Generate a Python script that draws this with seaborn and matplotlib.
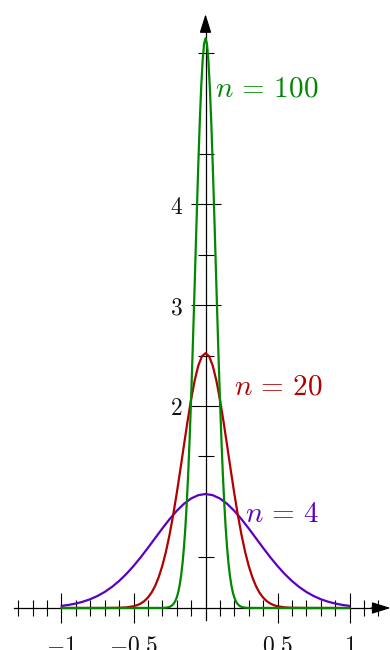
import pandas as pd
import seaborn as sns
import matplotlib.pyplot as plt

# curve values
x_n4 = [-1.0, -0.95, -0.9, -0.85, -0.8, -0.75, -0.7, -0.65, -0.6, -0.55, -0.5,
        -0.45, -0.4, -0.35, -0.3, -0.25, -0.2, -0.15, -0.1, -0.05, 0.0,
        0.05, 0.1, 0.15, 0.2, 0.25, 0.3, 0.35, 0.4, 0.45, 0.5,
        0.55, 0.6, 0.65, 0.7, 0.75, 0.8, 0.85, 0.9, 0.95, 1.0]
y_n4 = [0.0207, 0.0305, 0.0442, 0.0627, 0.0872, 0.1189, 0.1589, 0.2082, 0.2674, 0.3365, 0.4151,
        0.5020, 0.5950, 0.6913, 0.7873, 0.8788, 0.9616, 1.0313, 1.0842, 1.1172, 1.1284,
        1.1172, 1.0842, 1.0313, 0.9616, 0.8788, 0.7873, 0.6913, 0.5950, 0.5020, 0.4151,
        0.3365, 0.2674, 0.2082, 0.1589, 0.1189, 0.0872, 0.0627, 0.0442, 0.0305, 0.0207]

x_n20 = [-1.0, -0.7, -0.6, -0.55, -0.5, -0.475, -0.45, -0.425, -0.4, -0.375, -0.35,
         -0.325, -0.3, -0.275, -0.25, -0.225, -0.2, -0.175, -0.15, -0.125, -0.1,
         -0.075, -0.05, -0.025, 0.0, 0.025, 0.05, 0.075, 0.1, 0.125, 0.15,
         0.175, 0.2, 0.225, 0.25, 0.275, 0.3, 0.325, 0.35, 0.375, 0.4,
         0.425, 0.45, 0.475, 0.5, 0.55, 0.6, 0.7, 1.0]
y_n20 = [0.0, 0.0001, 0.0019, 0.0059, 0.0170, 0.0277, 0.0440, 0.0681, 0.1028, 0.1515, 0.2177,
         0.3051, 0.4171, 0.5560, 0.7229, 0.9167, 1.1337, 1.3675, 1.6088, 1.8460, 2.0657,
         2.2546, 2.4000, 2.4918, 2.5231, 2.4918, 2.4000, 2.2546, 2.0657, 1.8460, 1.6088,
         1.3675, 1.1337, 0.9167, 0.7229, 0.5560, 0.4171, 0.3051, 0.2177, 0.1515, 0.1028,
         0.0681, 0.0440, 0.0277, 0.0170, 0.0059, 0.0019, 0.0001, 0.0]

x_n100 = [-1.0, -0.3, -0.27, -0.25, -0.24, -0.23, -0.22, -0.21, -0.2, -0.19, -0.18,
          -0.17, -0.16, -0.15, -0.14, -0.13, -0.12, -0.11, -0.1, -0.09, -0.08,
          -0.07, -0.06, -0.05, -0.04, -0.03, -0.02, -0.01, 0.0, 0.01, 0.02,
          0.03, 0.04, 0.05, 0.06, 0.07, 0.08, 0.09, 0.1, 0.11, 0.12,
          0.13, 0.14, 0.15, 0.16, 0.17, 0.18, 0.19, 0.2, 0.21, 0.22,
          0.23, 0.24, 0.25, 0.27, 0.3, 1.0]
y_n100 = [0.0, 0.0007, 0.0038, 0.0109, 0.0178, 0.0284, 0.0446, 0.0686, 0.1034, 0.1526, 0.2209,
          0.3136, 0.4361, 0.5947, 0.7947, 1.0410, 1.3367, 1.6824, 2.0755, 2.5099, 2.9749,
          3.4564, 3.9362, 4.3939, 4.8077, 5.1563, 5.4207, 5.5858, 5.6419, 5.5858, 5.4207,
          5.1563, 4.8077, 4.3939, 3.9362, 3.4564, 2.9749, 2.5099, 2.0755, 1.6824, 1.3367,
          1.0410, 0.7947, 0.5947, 0.4361, 0.3136, 0.2209, 0.1526, 0.1034, 0.0686, 0.0446,
          0.0284, 0.0178, 0.0109, 0.0038, 0.0007, 0.0]

curve_labels = [r'$n \,=\, 4$', r'$n \,=\, 20$', r'$n \,=\, 100$']
curve_colors = ['#5a00c0', '#b00000', '#008800']

x_major = [-1, -0.5, 0.5, 1]
x_major_labels = [r'$-1$', r'$-0.5$', r'$0.5$', r'$1$']
x_minor = [-1.3, -1.2, -1.1, -0.9, -0.8, -0.7, -0.6, -0.4, -0.3, -0.2, -0.1,
           0.1, 0.2, 0.3, 0.4, 0.6, 0.7, 0.8, 0.9, 1.1, 1.2]
y_major = [2, 3, 4]
y_major_labels = [r'$2$', r'$3$', r'$4$']
y_minor = [0.5, 1.5, 2.5, 3.5, 4.5, 5.5]

sns.set_style("ticks")
plt.rcParams['mathtext.fontset'] = 'cm'
plt.rcParams['font.family'] = ['DejaVu Sans']

fig = plt.figure(figsize=(3.9, 6.5), dpi=100)
ax = fig.add_axes([0, 0, 1, 1])
ax.patch.set_alpha(0)

curves = [(x_n4, y_n4), (x_n20, y_n20), (x_n100, y_n100)]
for (xs, ys), col in zip(curves, curve_colors):
    df = pd.DataFrame({'x': xs, 'y': ys})
    sns.lineplot(data=df, x='x', y='y', color=col, lw=1.6, ax=ax,
                 estimator=None, sort=False, zorder=3)

ax.set_xlim(-1.427, 1.281)
ax.set_ylim(-0.416, 6.02)
ax.set_xlabel('')
ax.set_ylabel('')

# axes through the origin
ax.spines[['top', 'right']].set_visible(False)
ax.spines['left'].set_position(('data', 0))
ax.spines['bottom'].set_position(('data', 0))
ax.spines['bottom'].set_bounds(-1.33, 1.2)
ax.spines['left'].set_bounds(-0.12, 5.75)
for s in ['left', 'bottom']:
    ax.spines[s].set_color('black')
    ax.spines[s].set_linewidth(0.9)

arrow = dict(arrowstyle='-|>,head_length=1.15,head_width=0.36', color='black',
             lw=0.9, shrinkA=0, shrinkB=0, mutation_scale=10)
ax.annotate('', xy=(1.285, 0), xytext=(1.15, 0), arrowprops=arrow, zorder=4,
            annotation_clip=False)
ax.annotate('', xy=(0, 5.88), xytext=(0, 5.70), arrowprops=arrow, zorder=4,
            annotation_clip=False)

ax.set_xticks(x_major)
ax.set_xticklabels(x_major_labels)
ax.set_xticks(x_minor, minor=True)
ax.set_yticks(y_major)
ax.set_yticklabels(y_major_labels)
ax.set_yticks(y_minor, minor=True)
ax.tick_params(which='major', direction='inout', length=21, width=0.8,
               color='black', labelsize=17, labelcolor='#111111',
               bottom=True, left=True)
ax.tick_params(which='minor', direction='inout', length=11, width=0.8,
               color='black', bottom=True, left=True)
ax.tick_params(axis='x', which='major', pad=8)
ax.tick_params(axis='y', which='major', pad=6)

# curve names
ax.text(0.274, 0.85, curve_labels[0], color=curve_colors[0], fontsize=21, va='baseline')
ax.text(0.200, 2.11, curve_labels[1], color=curve_colors[1], fontsize=21, va='baseline')
ax.text(0.066, 5.06, curve_labels[2], color=curve_colors[2], fontsize=21, va='baseline')

fig.savefig('out.png', dpi=100)
